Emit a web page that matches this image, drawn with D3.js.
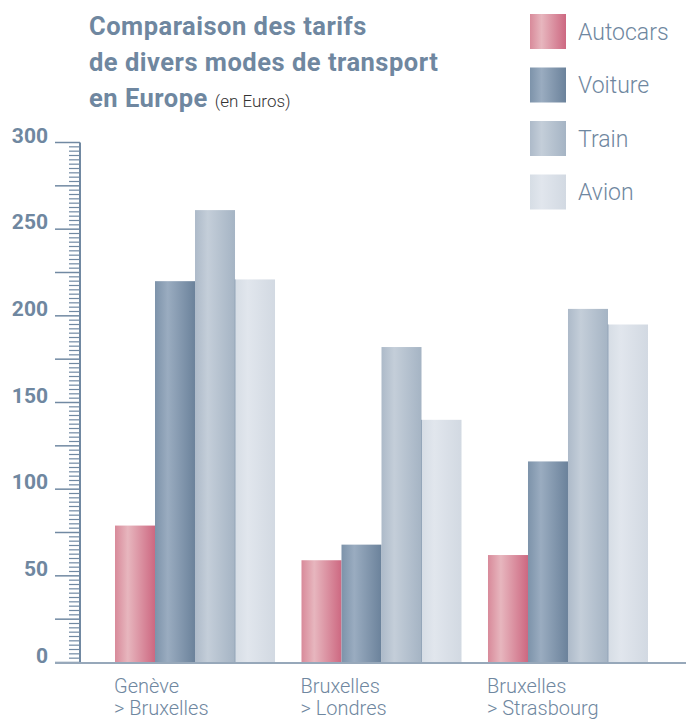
<!DOCTYPE html>
<html>
<head>
<meta charset="utf-8">
<script src="https://cdn.jsdelivr.net/npm/d3@7"></script>
<style>
  body { margin: 0; background: #fff; }
  text { font-family: Roboto, "Open Sans", sans-serif; fill: #6f87a0; }
</style>
</head>
<body>
<svg id="chart" width="686" height="719"></svg>
<script>
// data
var trajets = ['Genève|> Bruxelles', 'Bruxelles|> Londres', 'Bruxelles|> Strasbourg'];
var modes = ['Autocars', 'Voiture', 'Train', 'Avion'];
var autocars = [79, 59, 62];
var voiture = [220, 68, 116];
var train = [261, 182, 204];
var avion = [221, 140, 195];
var yTicks = [0, 50, 100, 150, 200, 250, 300];

var series = [autocars, voiture, train, avion];

// gradient stops per mode: left, light band, right
var grads = {
  Autocars: ['#d88a9a', '#e7b6be', '#cd6881'],
  Voiture: ['#7d93aa', '#9aacc0', '#6b829b'],
  Train: ['#adbac9', '#c4ced9', '#a5b4c4'],
  Avion: ['#d6dde5', '#e1e6ed', '#d2d9e2']
};

var svg = d3.select('#chart');

var defs = svg.append('defs');
modes.forEach(function(m){
  var g = defs.append('linearGradient')
    .attr('id', 'g-' + m)
    .attr('x1', '0').attr('x2', '1').attr('y1', '0').attr('y2', '0');
  g.append('stop').attr('offset', '0%').attr('stop-color', grads[m][0]);
  g.append('stop').attr('offset', '32%').attr('stop-color', grads[m][1]);
  g.append('stop').attr('offset', '100%').attr('stop-color', grads[m][2]);
});

// scales
var yScale = d3.scaleLinear().domain([0, 300]).range([662.5, 142.5]);

var xGroup = d3.scaleBand()
  .domain(trajets)
  .range([115, 648])
  .paddingInner(0.142)
  .paddingOuter(0);

var xMode = d3.scaleBand()
  .domain(modes)
  .range([0, xGroup.bandwidth()]);

// bars
var groups = svg.append('g').selectAll('g')
  .data(trajets)
  .enter().append('g')
  .attr('transform', function(d){ return 'translate(' + xGroup(d) + ',0)'; });

groups.selectAll('rect')
  .data(function(d, i){
    return modes.map(function(m, j){ return { mode: m, value: series[j][i] }; });
  })
  .enter().append('rect')
  .attr('x', function(d){ return xMode(d.mode); })
  .attr('y', function(d){ return yScale(d.value); })
  .attr('width', xMode.bandwidth())
  .attr('height', function(d){ return yScale(0) - yScale(d.value); })
  .attr('fill', function(d){ return 'url(#g-' + d.mode + ')'; });

// thin edge between train and avion
groups.append('line')
  .attr('x1', xMode('Avion')).attr('x2', xMode('Avion'))
  .attr('y1', function(d, i){ return yScale(Math.min(train[i], avion[i])); })
  .attr('y2', yScale(0))
  .attr('stroke', '#94a6b9')
  .attr('stroke-width', 1);

// y axis with minor ticks
var axisX = 80;
var minor = d3.range(0, 301, 2.5);
svg.append('g').selectAll('line')
  .data(minor)
  .enter().append('line')
  .attr('x1', function(d){ return d % 25 === 0 ? 55 : 69; })
  .attr('x2', axisX)
  .attr('y1', function(d){ return yScale(d); })
  .attr('y2', function(d){ return yScale(d); })
  .attr('stroke', '#7189a2')
  .attr('stroke-width', function(d){ return d % 25 === 0 ? 1.5 : 1.2; });

svg.append('line')
  .attr('x1', axisX).attr('x2', axisX)
  .attr('y1', yScale(300)).attr('y2', yScale(0))
  .attr('stroke', '#7189a2')
  .attr('stroke-width', 2);

svg.append('g').selectAll('text')
  .data(yTicks)
  .enter().append('text')
  .attr('x', 48)
  .attr('y', function(d){ return yScale(d); })
  .attr('text-anchor', 'end')
  .attr('font-size', 21)
  .attr('font-weight', 700)
  .text(function(d){ return d; });

// baseline
svg.append('line')
  .attr('x1', 55).attr('x2', 686)
  .attr('y1', yScale(0) + 0.5).attr('y2', yScale(0) + 0.5)
  .attr('stroke', '#97a8ba')
  .attr('stroke-width', 2);

// category labels
var labels = svg.append('g').selectAll('text')
  .data(trajets)
  .enter().append('text')
  .attr('x', function(d){ return xGroup(d) - 1; })
  .attr('y', 693)
  .attr('font-size', 20)
  .attr('font-weight', 300);

labels.each(function(d){
  var parts = d.split('|');
  var t = d3.select(this);
  t.append('tspan').attr('x', xGroup(d) - 1).attr('dy', 0).text(parts[0]);
  t.append('tspan').attr('x', xGroup(d) - 1).attr('dy', 22).text(parts[1]);
});

// title
var title = svg.append('text')
  .attr('x', 89)
  .attr('y', 35)
  .attr('font-size', 25.5)
  .attr('letter-spacing', 0.5)
  .attr('font-weight', 700);
title.append('tspan').attr('x', 89).attr('dy', 0).text('Comparaison des tarifs');
title.append('tspan').attr('x', 89).attr('dy', 36).text('de divers modes de transport');
title.append('tspan').attr('x', 89).attr('dy', 36).text('en Europe');
title.append('tspan')
  .attr('font-size', 17).attr('font-weight', 300).attr('fill', '#333')
  .attr('letter-spacing', 0)
  .attr('dx', 7)
  .text('(en Euros)');

// legend
var legend = svg.append('g').selectAll('g')
  .data(modes)
  .enter().append('g')
  .attr('transform', function(d, i){ return 'translate(530,' + (14 + i * 53.5) + ')'; });

legend.append('rect')
  .attr('width', 36)
  .attr('height', 35)
  .attr('fill', function(d){ return 'url(#g-' + d + ')'; });

legend.append('text')
  .attr('x', 48)
  .attr('y', 25.5)
  .attr('font-size', 23)
  .attr('font-weight', 300)
  .text(function(d){ return d; });
</script>
</body>
</html>
